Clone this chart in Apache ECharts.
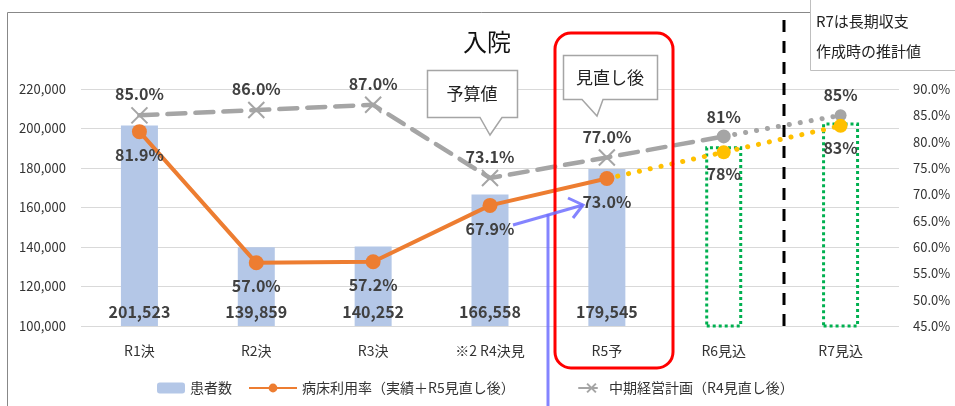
<!DOCTYPE html>
<html><head><meta charset="utf-8">
<script src="https://cdn.jsdelivr.net/npm/echarts@6/dist/echarts.min.js"></script>
<style>html,body{margin:0;padding:0;background:#fff}#c{width:955px;height:406px}</style>
</head><body><div id="c"></div>
<script>
// ---- data ----
const categories = ['R1決', 'R2決', 'R3決', '※2 R4決見', 'R5予', 'R6見込', 'R7見込'];
const patients = [201523, 139859, 140252, 166558, 179545, null, null];
const outlookBars = [null, null, null, null, null, 191000, 203000];
const occupancy = [81.9, 57.0, 57.2, 67.9, 73.0, null, null];
const occupancyOutlook = [null, null, null, null, 73.0, 78, 83];
const plan = [85.0, 86.0, 87.0, 73.1, 77.0, 81, null];
const planOutlook = [null, null, null, null, null, 81, 85];
const leftMin = 100000, leftMax = 220000, leftStep = 20000;
const rightMin = 45, rightMax = 90, rightStep = 5;

const FONT = '"Noto Sans CJK JP", "Noto Sans", sans-serif';
const NAME_BAR = '患者数';
const NAME_OCC = '病床利用率（実績＋R5見直し後）';
const NAME_PLAN = '中期経営計画（R4見直し後）';
const X_SYMBOL = 'path://M0,0L10,10M10,0L0,10';
const lblStyle = { fontFamily: FONT, fontSize: 16, fontWeight: 'bold', color: '#404040' };

const chart = echarts.init(document.getElementById('c'), null, { renderer: 'canvas' });

const occOutlookData = occupancyOutlook.map((v, i) => v == null ? null :
  { value: v, symbolSize: i >= 5 ? 14 : 0 });
const planData = plan.map((v, i) => v == null ? null :
  (i >= 5 ? { value: v, symbol: 'circle', symbolSize: 12 } : v));
const planOutlookData = planOutlook.map((v, i) => v == null ? null :
  { value: v, symbol: 'circle', symbolSize: 12, label: { show: i === 6 } });

const legendBase = {
  top: 381, padding: 0, itemHeight: 11,
  textStyle: { fontFamily: FONT, fontSize: 14, color: '#333' }
};

chart.setOption({
  animation: false,
  textStyle: { fontFamily: FONT },
  grid: { left: 81, right: 56, top: 89, bottom: 80, containLabel: false },
  legend: [
    Object.assign({}, legendBase, { data: [NAME_BAR], left: 157, itemWidth: 28 }),
    Object.assign({}, legendBase, { data: [NAME_OCC], left: 248, itemWidth: 48 }),
    Object.assign({}, legendBase, { data: [NAME_PLAN], left: 578, itemWidth: 25 })
  ],
  xAxis: {
    type: 'category', data: categories,
    axisLine: { show: false }, axisTick: { show: false },
    axisLabel: { fontFamily: FONT, fontSize: 14, color: '#333', margin: 18 }
  },
  yAxis: [
    {
      type: 'value', min: leftMin, max: leftMax, interval: leftStep,
      axisLine: { show: false }, axisTick: { show: false },
      splitLine: { lineStyle: { color: '#D9D9D9', width: 1 } },
      axisLabel: { fontFamily: FONT, fontSize: 13, color: '#333', margin: 15,
        formatter: v => v.toLocaleString('en-US') }
    },
    {
      type: 'value', min: rightMin, max: rightMax, interval: rightStep,
      axisLine: { show: false }, axisTick: { show: false }, splitLine: { show: false },
      axisLabel: { fontFamily: FONT, fontSize: 13, color: '#333', margin: 14,
        formatter: v => v.toFixed(1) + '%' }
    }
  ],
  series: [
    {
      name: NAME_BAR, type: 'bar', data: patients, barWidth: 37, barGap: '-100%',
      itemStyle: { color: '#B4C7E7' }, z: 1,
      label: Object.assign({ show: true, position: 'insideBottom', distance: 6,
        formatter: p => p.value.toLocaleString('en-US') }, lblStyle)
    },
    {
      name: 'outlook', type: 'bar', data: outlookBars, barWidth: 37, barGap: '-100%',
      itemStyle: { color: 'rgba(0,0,0,0)', borderColor: '#00B050', borderWidth: 3, borderType: [3, 3] },
      z: 1, silent: true
    },
    {
      name: NAME_OCC, type: 'line', yAxisIndex: 1, data: occupancy,
      symbol: 'circle', symbolSize: 15, z: 5,
      lineStyle: { color: '#ED7D31', width: 4 },
      itemStyle: { color: '#ED7D31' },
      label: Object.assign({ show: true, position: 'bottom', distance: 8,
        formatter: p => p.value.toFixed(1) + '%' }, lblStyle)
    },
    {
      name: 'occOutlook', type: 'line', yAxisIndex: 1, data: occOutlookData,
      symbol: 'circle', z: 4,
      lineStyle: { color: '#FFC000', width: 5, type: [0.1, 11], cap: 'round' },
      itemStyle: { color: '#FFC000' },
      label: Object.assign({ show: true, position: 'bottom', distance: 7,
        formatter: p => p.dataIndex >= 5 ? Math.round(p.value) + '%' : '' }, lblStyle)
    },
    {
      name: NAME_PLAN, type: 'line', yAxisIndex: 1, data: planData,
      symbol: X_SYMBOL, symbolSize: 16, z: 3,
      lineStyle: { color: '#A5A5A5', width: 4.5, type: [18, 10], cap: 'round' },
      itemStyle: { color: '#A5A5A5', borderColor: '#A5A5A5', borderWidth: 2 },
      label: Object.assign({ show: true, position: 'top', distance: 4,
        formatter: p => p.dataIndex >= 5 ? Math.round(p.value) + '%' : p.value.toFixed(1) + '%' }, lblStyle)
    },
    {
      name: 'planOutlook', type: 'line', yAxisIndex: 1, data: planOutlookData,
      z: 3,
      lineStyle: { color: '#A5A5A5', width: 5, type: [0.1, 11], cap: 'round' },
      itemStyle: { color: '#A5A5A5' },
      label: Object.assign({ show: false, position: 'top', distance: 6,
        formatter: p => Math.round(p.value) + '%' }, lblStyle)
    }
  ],
  graphic: [
    // outer chart frame
    { type: 'rect', z: -10, shape: { x: 7.5, y: 12.5, width: 1000, height: 500 },
      style: { fill: 'none', stroke: '#888', lineWidth: 1 } },
    // title
    { type: 'text', z: 100, x: 487, y: 42,
      style: { text: '入院', fontFamily: FONT, fontSize: 24, fill: '#111', align: 'center', verticalAlign: 'middle' } },
    // 予算値 callout
    { type: 'polygon', z: 100,
      shape: { points: [[427.5, 70.5], [517.5, 70.5], [517.5, 117.5], [502, 117.5], [490, 135], [480, 117.5], [427.5, 117.5]] },
      style: { fill: '#fff', stroke: '#A5A5A5', lineWidth: 1.5 } },
    { type: 'text', z: 101, x: 472, y: 94,
      style: { text: '予算値', fontFamily: FONT, fontSize: 17, fill: '#222', align: 'center', verticalAlign: 'middle' } },
    // 見直し後 callout
    { type: 'polygon', z: 100,
      shape: { points: [[563.5, 55.5], [657.5, 55.5], [657.5, 99.5], [603, 99.5], [597, 116], [582, 99.5], [563.5, 99.5]] },
      style: { fill: '#fff', stroke: '#A5A5A5', lineWidth: 1.5 } },
    { type: 'text', z: 101, x: 610, y: 78,
      style: { text: '見直し後', fontFamily: FONT, fontSize: 17, fill: '#222', align: 'center', verticalAlign: 'middle' } },
    // red rounded frame
    { type: 'rect', z: 100, shape: { x: 555, y: 33, width: 118, height: 335, r: 16 },
      style: { fill: 'none', stroke: '#FF0000', lineWidth: 3 } },
    // black dashed divider
    { type: 'line', z: 100, shape: { x1: 784, y1: 20, x2: 784, y2: 328 },
      style: { stroke: '#000', lineWidth: 3, lineDash: [12, 9] } },
    // note box
    { type: 'rect', z: 100, shape: { x: 810.5, y: -2, width: 150, height: 72.5 },
      style: { fill: '#fff', stroke: '#BFBFBF', lineWidth: 1 } },
    { type: 'text', z: 101, x: 816, y: 21,
      style: { text: 'R7は長期収支', fontFamily: FONT, fontSize: 15, fill: '#222', verticalAlign: 'middle' } },
    { type: 'text', z: 101, x: 816, y: 51,
      style: { text: '作成時の推計値', fontFamily: FONT, fontSize: 15, fill: '#222', verticalAlign: 'middle' } },
    // blue arrow
    { type: 'polyline', z: 110, shape: { points: [[548, 410], [548, 214]] },
      style: { stroke: 'rgba(110,110,255,0.85)', lineWidth: 3, fill: 'none' } },
    { type: 'polyline', z: 110, shape: { points: [[513, 225], [583, 205]] },
      style: { stroke: 'rgba(110,110,255,0.85)', lineWidth: 3, fill: 'none' } },
    { type: 'polyline', z: 110, shape: { points: [[568, 198], [583, 205], [573, 218]] },
      style: { stroke: 'rgba(110,110,255,0.85)', lineWidth: 3, fill: 'none' } }
  ]
});
</script>
</body></html>
